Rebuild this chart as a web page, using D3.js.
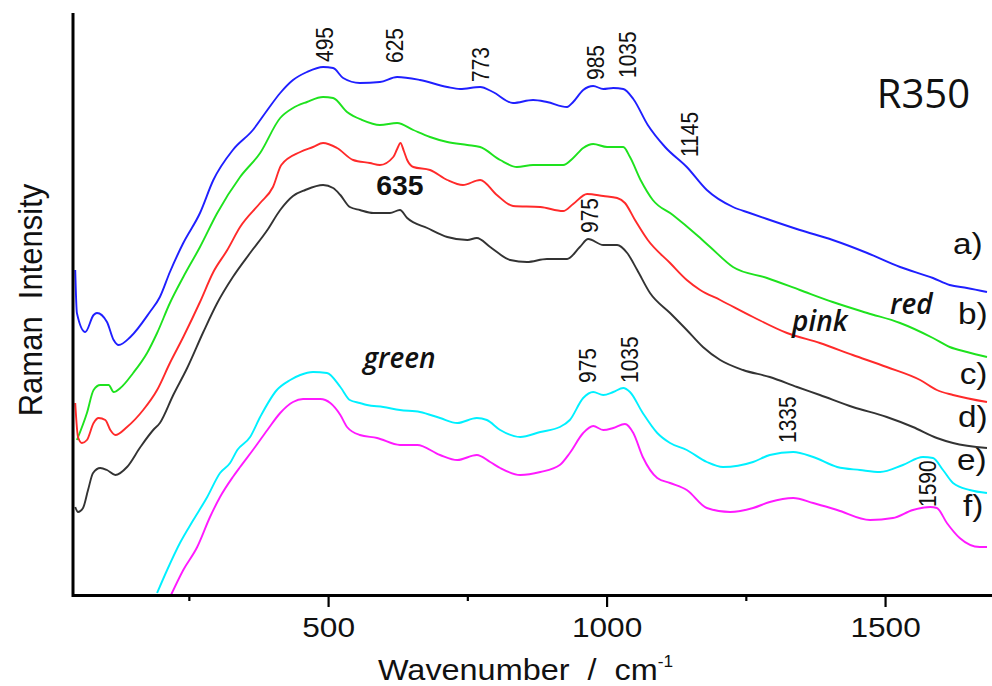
<!DOCTYPE html>
<html>
<head>
<meta charset="utf-8">
<script src="https://cdn.jsdelivr.net/npm/d3@7"></script>
<style>
  html, body { margin: 0; padding: 0; background: #fff; }
  svg { display: block; }
</style>
</head>
<body>
<svg id="chart" width="992" height="686"></svg>
<script>
// ---------- DATA (wavenumber cm-1, Raman intensity a.u.) ----------
const seriesA = [[46,325],[49,282],[64,263],[79,280],[85,282],[103,273],[115,255],[124,250],[145,258],[180,283],[198,298],[216,323],[240,352],[270,382],[294,415],[329,445],[365,465],[391,485],[414,502],[437,515],[462,523],[491,528],[509,527],[527,517],[557,512],[593,513],[624,518],[665,515],[714,508],[737,506],[773,508],[796,503],[832,492],[868,495],[893,493],[929,488],[940,493],[958,505],[976,509],[994,506],[1012,507],[1030,506],[1048,496],[1074,470],[1105,448],[1144,428],[1180,405],[1227,388],[1257,382],[1288,376],[1347,365],[1406,355],[1468,342],[1527,328],[1586,317],[1616,310],[1647,307],[1683,303]];
const seriesB = [[49,155],[67,182],[79,205],[91,210],[106,210],[115,203],[127,207],[150,222],[175,242],[193,262],[216,292],[240,318],[270,348],[301,382],[342,418],[378,442],[414,477],[437,487],[462,493],[491,498],[509,497],[534,483],[561,475],[593,470],[624,472],[653,465],[683,458],[714,453],[750,450],[773,448],[809,435],[839,428],[868,430],[922,430],[940,437],[958,447],[976,451],[1001,448],[1030,448],[1042,438],[1062,414],[1083,395],[1119,380],[1162,360],[1186,348],[1227,328],[1288,317],[1347,305],[1406,293],[1468,282],[1527,272],[1586,257],[1616,248],[1647,243],[1683,238]];
const seriesC = [[46,192],[51,158],[58,152],[67,155],[79,172],[88,177],[100,175],[109,165],[118,160],[139,168],[168,185],[193,205],[216,232],[240,258],[270,293],[294,323],[319,345],[342,368],[378,392],[401,408],[416,430],[450,443],[473,448],[491,452],[516,447],[545,435],[575,432],[593,430],[617,438],[624,446],[630,452],[636,444],[642,435],[653,428],[683,425],[714,415],[742,410],[773,415],[803,400],[832,389],[881,388],[922,384],[940,391],[965,401],[994,399],[1019,397],[1033,392],[1051,375],[1074,355],[1114,332],[1144,315],[1168,305],[1204,295],[1263,278],[1324,262],[1383,252],[1442,240],[1503,228],[1563,215],[1593,205],[1622,200],[1683,193]];
const seriesD = [[46,88],[51,83],[60,87],[69,105],[78,122],[91,127],[103,125],[118,120],[139,128],[163,148],[186,165],[198,172],[222,200],[247,227],[276,263],[301,292],[329,318],[360,342],[391,365],[414,385],[437,399],[459,405],[491,410],[509,407],[522,400],[539,388],[557,385],[581,382],[611,382],[629,385],[642,377],[678,367],[714,358],[750,355],[767,357],[791,348],[827,335],[857,333],[893,336],[929,336],[952,348],[967,356],[994,350],[1019,350],[1037,342],[1055,325],[1078,302],[1114,282],[1144,265],[1173,248],[1204,235],[1245,225],[1293,218],[1342,208],[1383,200],[1442,188],[1503,178],[1550,168],[1593,157],[1622,152],[1683,147]];
const seriesE = [[193,2],[211,25],[234,52],[258,75],[283,98],[306,122],[324,132],[337,145],[360,158],[378,178],[408,205],[432,215],[450,220],[473,223],[498,222],[522,208],[539,195],[557,192],[570,190],[599,188],[629,185],[665,183],[701,177],[732,172],[767,177],[785,175],[809,165],[845,158],[881,163],[916,168],[934,175],[958,197],[976,203],[994,200],[1012,203],[1030,207],[1042,203],[1065,182],[1091,162],[1114,152],[1144,145],[1180,133],[1209,128],[1263,133],[1293,140],[1335,143],[1371,138],[1414,128],[1455,125],[1491,123],[1532,130],[1568,138],[1586,137],[1604,125],[1622,112],[1652,105],[1683,102]];
const seriesF = [[218,0],[240,25],[265,48],[288,78],[306,98],[329,118],[342,128],[365,145],[391,165],[414,182],[437,193],[455,196],[486,196],[504,192],[522,180],[534,168],[557,160],[588,157],[629,150],[660,150],[701,140],[732,135],[767,140],[791,133],[809,127],[845,120],[881,123],[916,130],[934,142],[958,162],[976,169],[994,165],[1012,167],[1033,171],[1048,162],[1065,138],[1091,117],[1114,112],[1144,105],[1180,87],[1222,83],[1263,87],[1293,93],[1335,97],[1371,92],[1414,85],[1473,75],[1514,77],[1550,85],[1581,88],[1593,87],[1611,72],[1634,57],[1670,48],[1683,48]];

const seriesNames  = ["a)", "b)", "c)", "d)", "e)", "f)"];
const seriesColors = ["#1f1fff", "#1ee21e", "#ff2a2a", "#333333", "#00f0ff", "#ff1aff"];
const seriesList   = [seriesA, seriesB, seriesC, seriesD, seriesE, seriesF];

const majorTicks = [500, 1000, 1500];
const minorTicks = [250, 750, 1250];

// peak annotations: [text, wavenumber, intensity at label start]
const peakLabels = [["495",493,533],["625",619,532],["773",774,513],["985",980,515],["1035",1038,517],["1145",1149,438],["975",969,362],["975",966,212],["1035",1041,212],["1335",1324,152],["1590",1577,88]];
// series name labels: [text, wavenumber, intensity at baseline]
const nameLabels = [["a)",1622,341],["b)",1631,271],["c)",1634,211],["d)",1631,168],["e)",1629,125],["f)",1640,79]];
const sampleLabels = [["green",563,227],["pink",1333,264],["red",1509,281]];

// ---------- CHART ----------
const svg = d3.select("#chart");
const x = d3.scaleLinear().domain([42, 1692]).range([73, 992]);
const y = d3.scaleLinear().domain([0, 582]).range([595, 13]);

svg.append("defs").append("clipPath").attr("id", "plotclip")
  .append("rect").attr("x", 73).attr("y", 13).attr("width", 919).attr("height", 582);

const line = d3.line().x(d => x(d[0])).y(d => y(d[1])).curve(d3.curveMonotoneX);

const plot = svg.append("g").attr("clip-path", "url(#plotclip)");
seriesList.forEach((s, i) => {
  plot.append("path").datum(s)
    .attr("d", line)
    .attr("fill", "none")
    .attr("stroke", seriesColors[i])
    .attr("stroke-width", 1.9)
    .attr("stroke-linejoin", "round");
});

// axes
const fontTick = "'Liberation Sans', Arial, sans-serif";
const minorAxis = d3.axisBottom(x).tickValues(minorTicks).tickSize(6).tickFormat("").tickSizeOuter(0);
const majorAxis = d3.axisBottom(x).tickValues(majorTicks).tickSize(12).tickPadding(10).tickSizeOuter(0).tickFormat(d3.format("d"));
const gMin = svg.append("g").attr("transform", "translate(0,595)").call(minorAxis);
const gMaj = svg.append("g").attr("transform", "translate(0,595)").call(majorAxis);
[gMin, gMaj].forEach(g => {
  g.select(".domain").attr("stroke", "#000").attr("stroke-width", 3);
  g.selectAll(".tick line").attr("stroke", "#000").attr("stroke-width", 2.2);
});
gMaj.selectAll(".tick text")
  .attr("font-family", fontTick).attr("font-size", 28).attr("fill", "#111")
  .attr("transform", function() { return "scale(1.13,1)"; })
  .attr("x", 0);
// keep scaled labels centred on their ticks
gMaj.selectAll(".tick text").attr("transform", null).each(function() {
  const t = d3.select(this);
  t.attr("transform", "scale(1.13,1)");
});

// left axis line
svg.append("line").attr("x1", 73).attr("x2", 73).attr("y1", 13).attr("y2", 597)
  .attr("stroke", "#000").attr("stroke-width", 3);

// x axis title
const titleG = svg.append("g").attr("transform", "translate(378,680) scale(1.08,1)")
  .attr("font-family", fontTick).attr("fill", "#111");
const tt = titleG.append("text").attr("font-size", 30).attr("x", 0).attr("y", 0);
tt.append("tspan").text("Wavenumber  /  cm");
tt.append("tspan").attr("font-size", 16).attr("dy", -13).text("-1");
titleG.select("text").attr("xml:space", "preserve").style("white-space", "pre");

// y axis title
svg.append("text")
  .attr("transform", "translate(42,300) scale(1.1,1) rotate(-90)")
  .attr("text-anchor", "middle")
  .attr("font-family", fontTick).attr("font-size", 31).attr("fill", "#111")
  .text("Raman  Intensity").style("white-space", "pre");

// peak labels (rotated)
peakLabels.forEach(p => {
  svg.append("text")
    .attr("transform", `translate(${x(p[1]) + 8.5},${y(p[2])}) scale(1.15,1) rotate(-90)`)
    .attr("font-family", fontTick).attr("font-size", 21).attr("fill", "#111")
    .text(p[0]);
});

// 635 bold label
svg.append("text")
  .attr("transform", `translate(${x(629)},${y(400)}) scale(1.05,1)`)
  .attr("text-anchor", "middle")
  .attr("font-family", fontTick).attr("font-size", 27).attr("font-weight", "bold").attr("fill", "#111")
  .text("635");

// series letters
nameLabels.forEach(n => {
  svg.append("text")
    .attr("transform", `translate(${x(n[1])},${y(n[2])}) scale(1.15,1)`)
    .attr("font-family", fontTick).attr("font-size", 29).attr("fill", "#111")
    .text(n[0]);
});

// sample colour labels (italic)
sampleLabels.forEach(s => {
  svg.append("text")
    .attr("x", x(s[1])).attr("y", y(s[2]))
    .attr("font-family", "'Open Sans', 'Noto Sans', sans-serif")
    .attr("font-style", "italic").attr("font-weight", 600)
    .attr("font-size", 28).attr("fill", "#111")
    .text(s[0]);
});

// R350 tag
svg.append("text")
  .attr("x", x(1485)).attr("y", y(487))
  .attr("font-family", "'Open Sans', 'Noto Sans', sans-serif")
  .attr("font-size", 40).attr("fill", "#111")
  .text("R350");
</script>
</body>
</html>
